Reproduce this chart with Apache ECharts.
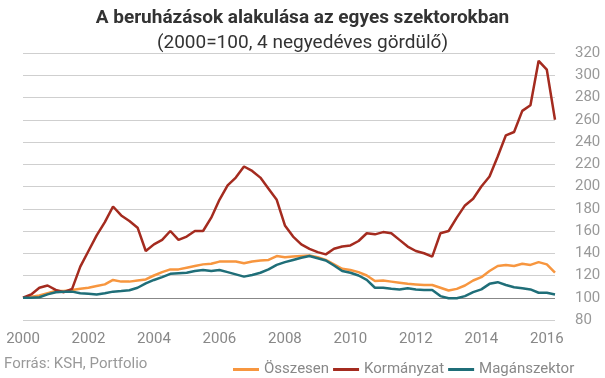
<!DOCTYPE html>
<html>
<head>
<meta charset="utf-8">
<script src="https://cdn.jsdelivr.net/npm/echarts@6/dist/echarts.min.js"></script>
<style>
  html, body { margin: 0; padding: 0; background: #fff; }
  #chart { width: 605px; height: 378px; }
</style>
</head>
<body>
<div id="chart"></div>
<script>
// negyedéves adatok, 2000 Q1 - 2016 Q2
const years = []
for (let y = 2000; y <= 2016; y++) {
  for (let q = 1; q <= 4; q++) {
    if (y === 2016 && q > 2) break
    years.push(y + ' Q' + q)
  }
}

const osszesen = [
  100, 101, 102, 104, 106, 106, 107, 108, 109, 110.5, 112, 116, 114.5, 114.5, 115.5, 116.5,
  120, 123, 125.5, 125.5, 127, 128.5, 130, 130.5, 132.5, 132.5, 132.5, 131, 132.5, 133.5, 134, 137.5,
  136.5, 137, 137.5, 138, 136.5, 134, 130, 126, 125, 123, 120, 115, 115.5, 114.5, 113.5, 112.5,
  112, 111.5, 111.5, 109, 106.5, 108, 111, 115.5, 118.5, 124, 128.5, 129.5, 128.5, 130.5, 129.5, 132,
  130, 122.5
]
const kormanyzat = [
  100, 103, 109, 111, 107, 105, 108, 128, 142, 156, 168, 182, 174, 169, 163, 142,
  148, 152, 160, 152, 155, 160, 160, 172, 188, 201, 208, 218, 214, 208, 198, 188,
  165, 155, 148, 144, 141, 139, 144, 146, 147, 151, 158, 157, 159, 158, 152, 146,
  142, 140, 137, 158, 160, 172, 183, 189, 200, 209, 227, 246, 249, 268, 273, 313,
  305, 260
]
const maganszektor = [
  100, 100, 100.5, 103, 105, 105.5, 105.5, 104, 103.5, 103, 104, 105.5, 106, 106.8, 109, 113,
  116, 118.5, 121.5, 122, 122.5, 124, 125, 124, 125, 123, 121, 119, 120.5, 122.5, 125.5, 129.5,
  132, 134, 136, 137.5, 135.5, 133.5, 129, 124, 122.5, 120, 116, 109, 109, 108, 107.5, 108.5,
  107.5, 107, 107, 101.5, 99.5, 99.5, 101.5, 105, 107.5, 112.5, 114, 111.5, 109.5, 108.5, 107.5, 104.5,
  104.5, 103
]

const seriesNames = ['Összesen', 'Kormányzat', 'Magánszektor']
const colors = ['#f7963f', '#a42b1f', '#1f6e78']

const myChart = echarts.init(document.getElementById('chart'))

const lineSeries = (name, data, color) => ({
  name: name,
  type: 'line',
  data: data,
  symbol: 'none',
  lineStyle: { width: 2.5, color: color },
  itemStyle: { color: color }
})

const option = {
  animation: false,
  textStyle: { fontFamily: 'Roboto' },
  title: {
    text: 'A beruházások alakulása az egyes szektorokban',
    subtext: '(2000=100, 4 negyedéves gördülő)',
    left: 'center',
    top: 4,
    itemGap: 6,
    textStyle: { fontSize: 19, fontWeight: 'bold', color: '#333' },
    subtextStyle: { fontSize: 19, color: '#333' }
  },
  grid: { left: 23, right: 50, top: 53, bottom: 58 },
  xAxis: {
    type: 'category',
    data: years,
    boundaryGap: false,
    axisLine: { show: false },
    axisTick: { show: false },
    axisLabel: {
      interval: 7,
      margin: 12,
      fontSize: 15,
      color: '#888',
      formatter: v => v.slice(0, 4)
    }
  },
  yAxis: {
    type: 'value',
    position: 'right',
    min: 80,
    max: 320,
    interval: 20,
    axisLine: { show: false },
    axisTick: { show: false },
    axisLabel: { margin: 20, fontSize: 15, color: '#999' },
    splitLine: { lineStyle: { color: '#cfcfcf', width: 1 } }
  },
  legend: {
    data: seriesNames,
    left: 228,
    top: 357,
    icon: 'rect',
    itemWidth: 26,
    itemHeight: 3,
    itemGap: 4,
    textStyle: { fontSize: 15, color: '#888' }
  },
  graphic: [{
    type: 'text',
    left: 4,
    top: 357,
    style: { text: 'Forrás: KSH, Portfolio', fontSize: 15, fill: '#999', fontFamily: 'Roboto' }
  }],
  series: [
    {
      ...lineSeries(seriesNames[0], osszesen, colors[0]),
      markLine: {
        silent: true,
        symbol: 'none',
        label: { show: false },
        lineStyle: { color: '#888', width: 1, type: 'solid' },
        data: [{ yAxis: 100 }],
        z: 1
      }
    },
    lineSeries(seriesNames[1], kormanyzat, colors[1]),
    lineSeries(seriesNames[2], maganszektor, colors[2])
  ]
}

myChart.setOption(option)
</script>
</body>
</html>
